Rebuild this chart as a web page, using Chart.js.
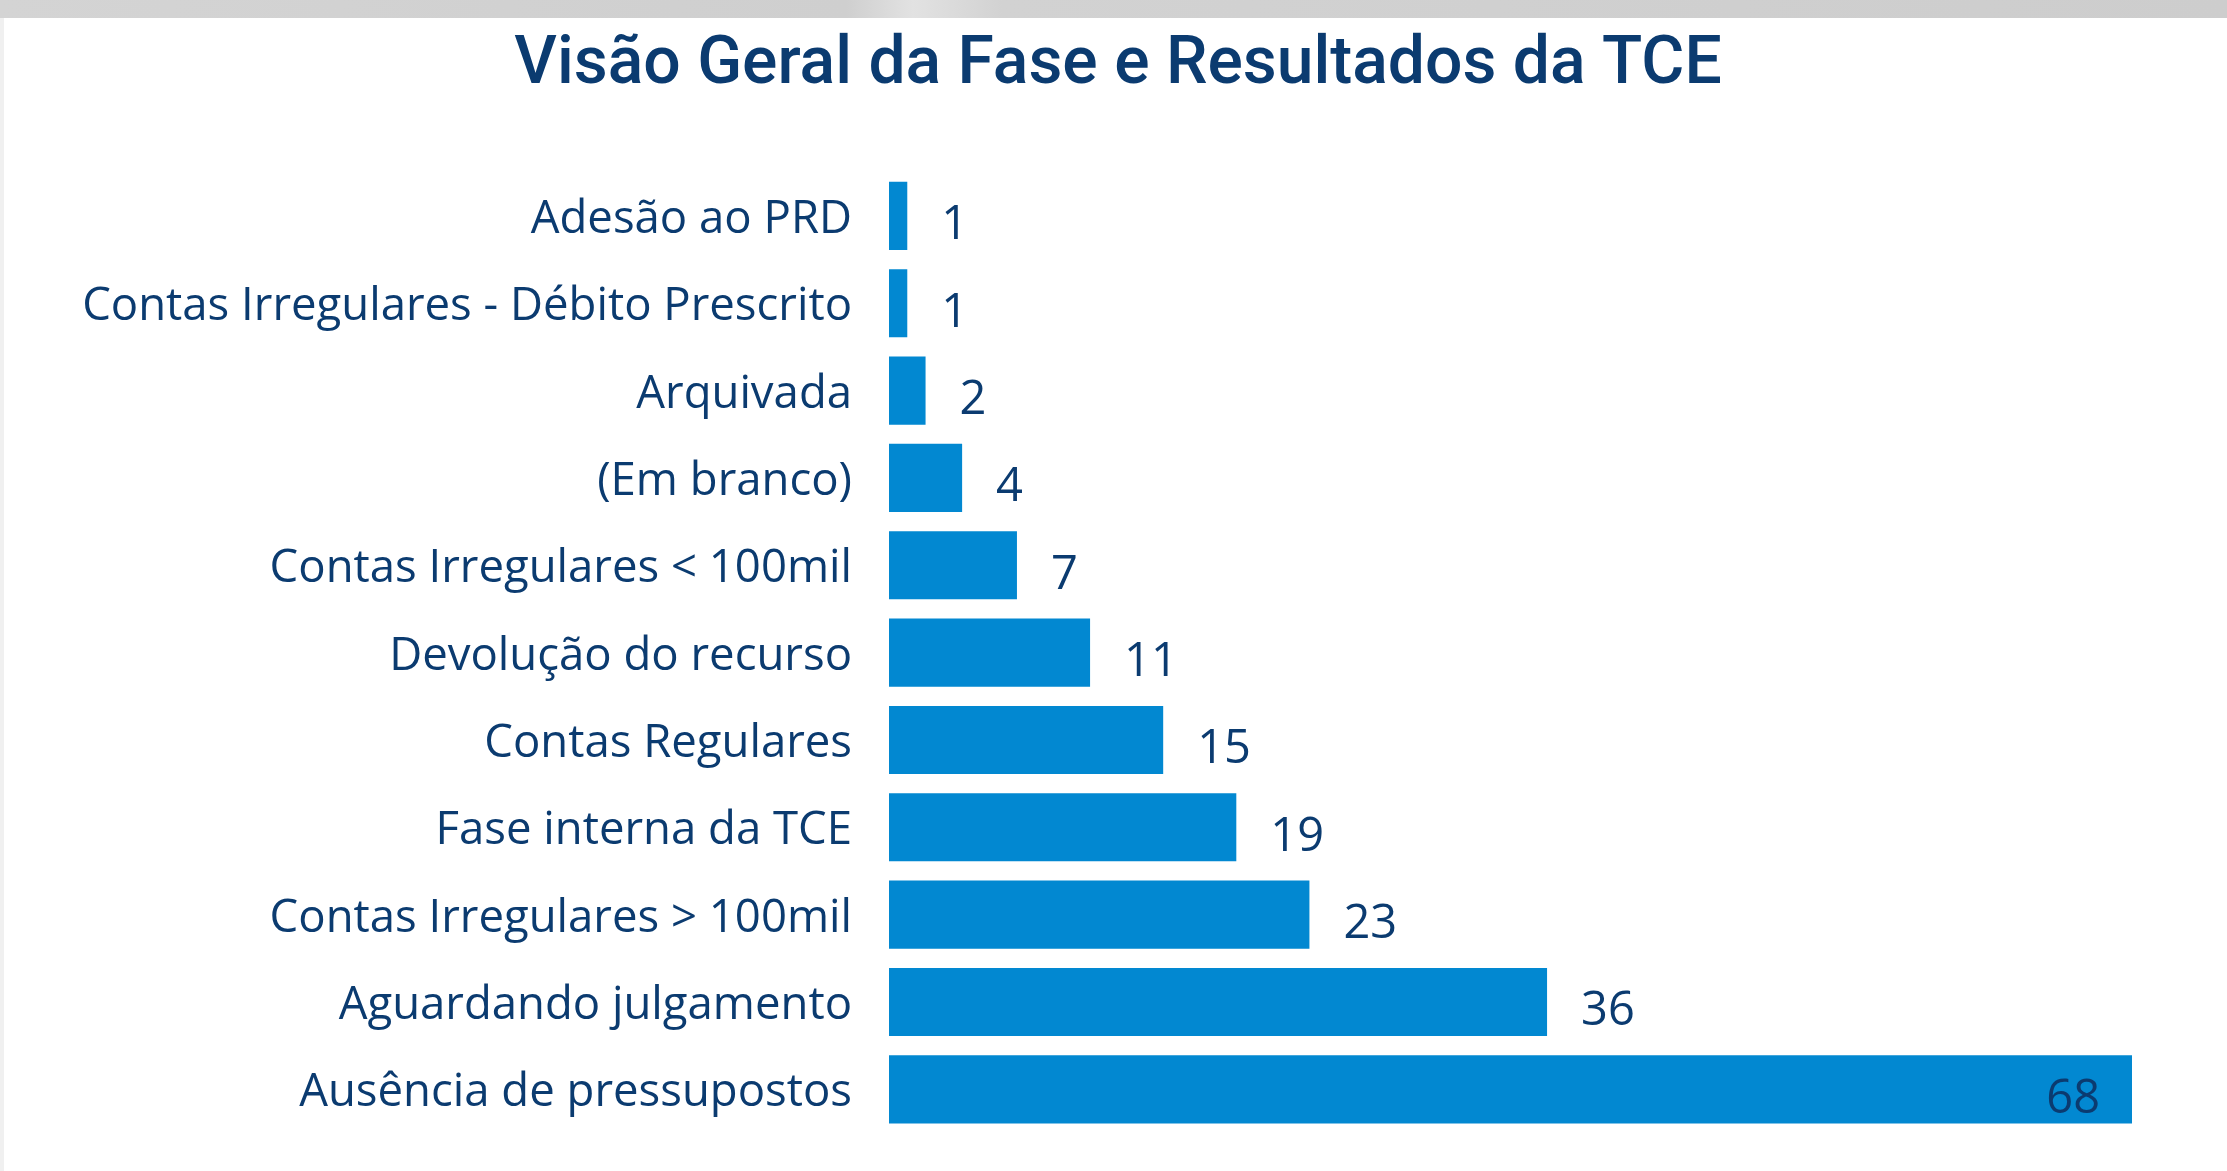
<!DOCTYPE html>
<html>
<head>
<meta charset="utf-8">
<script src="https://cdn.jsdelivr.net/npm/chart.js@4.4.1/dist/chart.umd.min.js"></script>
<style>
  html, body { margin: 0; padding: 0; background: #fff; overflow: hidden; }
  #band { position: absolute; left: 0; top: 0; width: 2227px; height: 18px;
    background: linear-gradient(to right, #d4d4d4 0%, #cfcfcf 38%, #e2e2e2 41%, #d2d2d2 45%, #cdcdcd 100%); z-index: 2; }
  #edge { position: absolute; left: 0; top: 18px; width: 4px; height: 1153px; background: #f0f0f0; z-index: 2; }
  canvas { position: absolute; left: 0; top: 0; }
</style>
</head>
<body>
<div id="band"></div>
<div id="edge"></div>
<canvas id="chart" width="2227" height="1171"></canvas>
<script>
const categories = [
  'Adesão ao PRD',
  'Contas Irregulares - Débito Prescrito',
  'Arquivada',
  '(Em branco)',
  'Contas Irregulares < 100mil',
  'Devolução do recurso',
  'Contas Regulares',
  'Fase interna da TCE',
  'Contas Irregulares > 100mil',
  'Aguardando julgamento',
  'Ausência de pressupostos'
];
const counts = [1, 1, 2, 4, 7, 11, 15, 19, 23, 36, 68];

const navy = '#0b3b70';
const barBlue = '#0288d1';

// value labels: outside the bar end, except the longest one which sits inside
const valueLabels = {
  id: 'valueLabels',
  afterLayout(chart) {
    // centre the title on the whole page, not the padded box
    if (chart.titleBlock) { chart.titleBlock.left = 0; chart.titleBlock.right = 2236; }
  },
  afterDatasetsDraw(chart) {
    const ctx = chart.ctx;
    const meta = chart.getDatasetMeta(0);
    const max = Math.max(...counts);
    ctx.save();
    ctx.font = '47px "Open Sans", "Noto Sans", sans-serif';
    ctx.fillStyle = navy;
    ctx.textBaseline = 'middle';
    meta.data.forEach((bar, i) => {
      const v = counts[i];
      if (v === max) {
        ctx.textAlign = 'right';
        ctx.fillText(String(v), bar.x - 32, bar.y + 10);
      } else {
        ctx.textAlign = 'left';
        ctx.fillText(String(v), bar.x + 34, bar.y + 10);
      }
    });
    ctx.restore();
  }
};

new Chart(document.getElementById('chart'), {
  type: 'bar',
  data: {
    labels: categories,
    datasets: [{
      data: counts,
      backgroundColor: barBlue,
      borderWidth: 0,
      barPercentage: 0.78,
      categoryPercentage: 1
    }]
  },
  options: {
    indexAxis: 'y',
    responsive: false,
    animation: false,
    layout: { padding: { left: 0, right: 95, top: 0, bottom: 38 } },
    plugins: {
      legend: { display: false },
      tooltip: { enabled: false },
      title: {
        display: true,
        text: 'Visão Geral da Fase e Resultados da TCE',
        color: navy,
        font: { family: 'Roboto, "Noto Sans", sans-serif', size: 66, weight: '500', lineHeight: 1.2 },
        padding: { top: 27, bottom: 66 }
      }
    },
    scales: {
      x: {
        display: false,
        min: 0,
        max: 68
      },
      y: {
        grid: { display: false, drawTicks: false },
        border: { display: false },
        ticks: {
          color: navy,
          padding: 37,
          labelOffset: 4,
          font: { family: '"Open Sans", "Noto Sans", sans-serif', size: 45.5 }
        },
        afterFit(scale) {
          scale.width = 889;
          scale.paddingTop = 0;
          scale.paddingBottom = 0;
        }
      }
    }
  },
  plugins: [valueLabels]
});
</script>
</body>
</html>
